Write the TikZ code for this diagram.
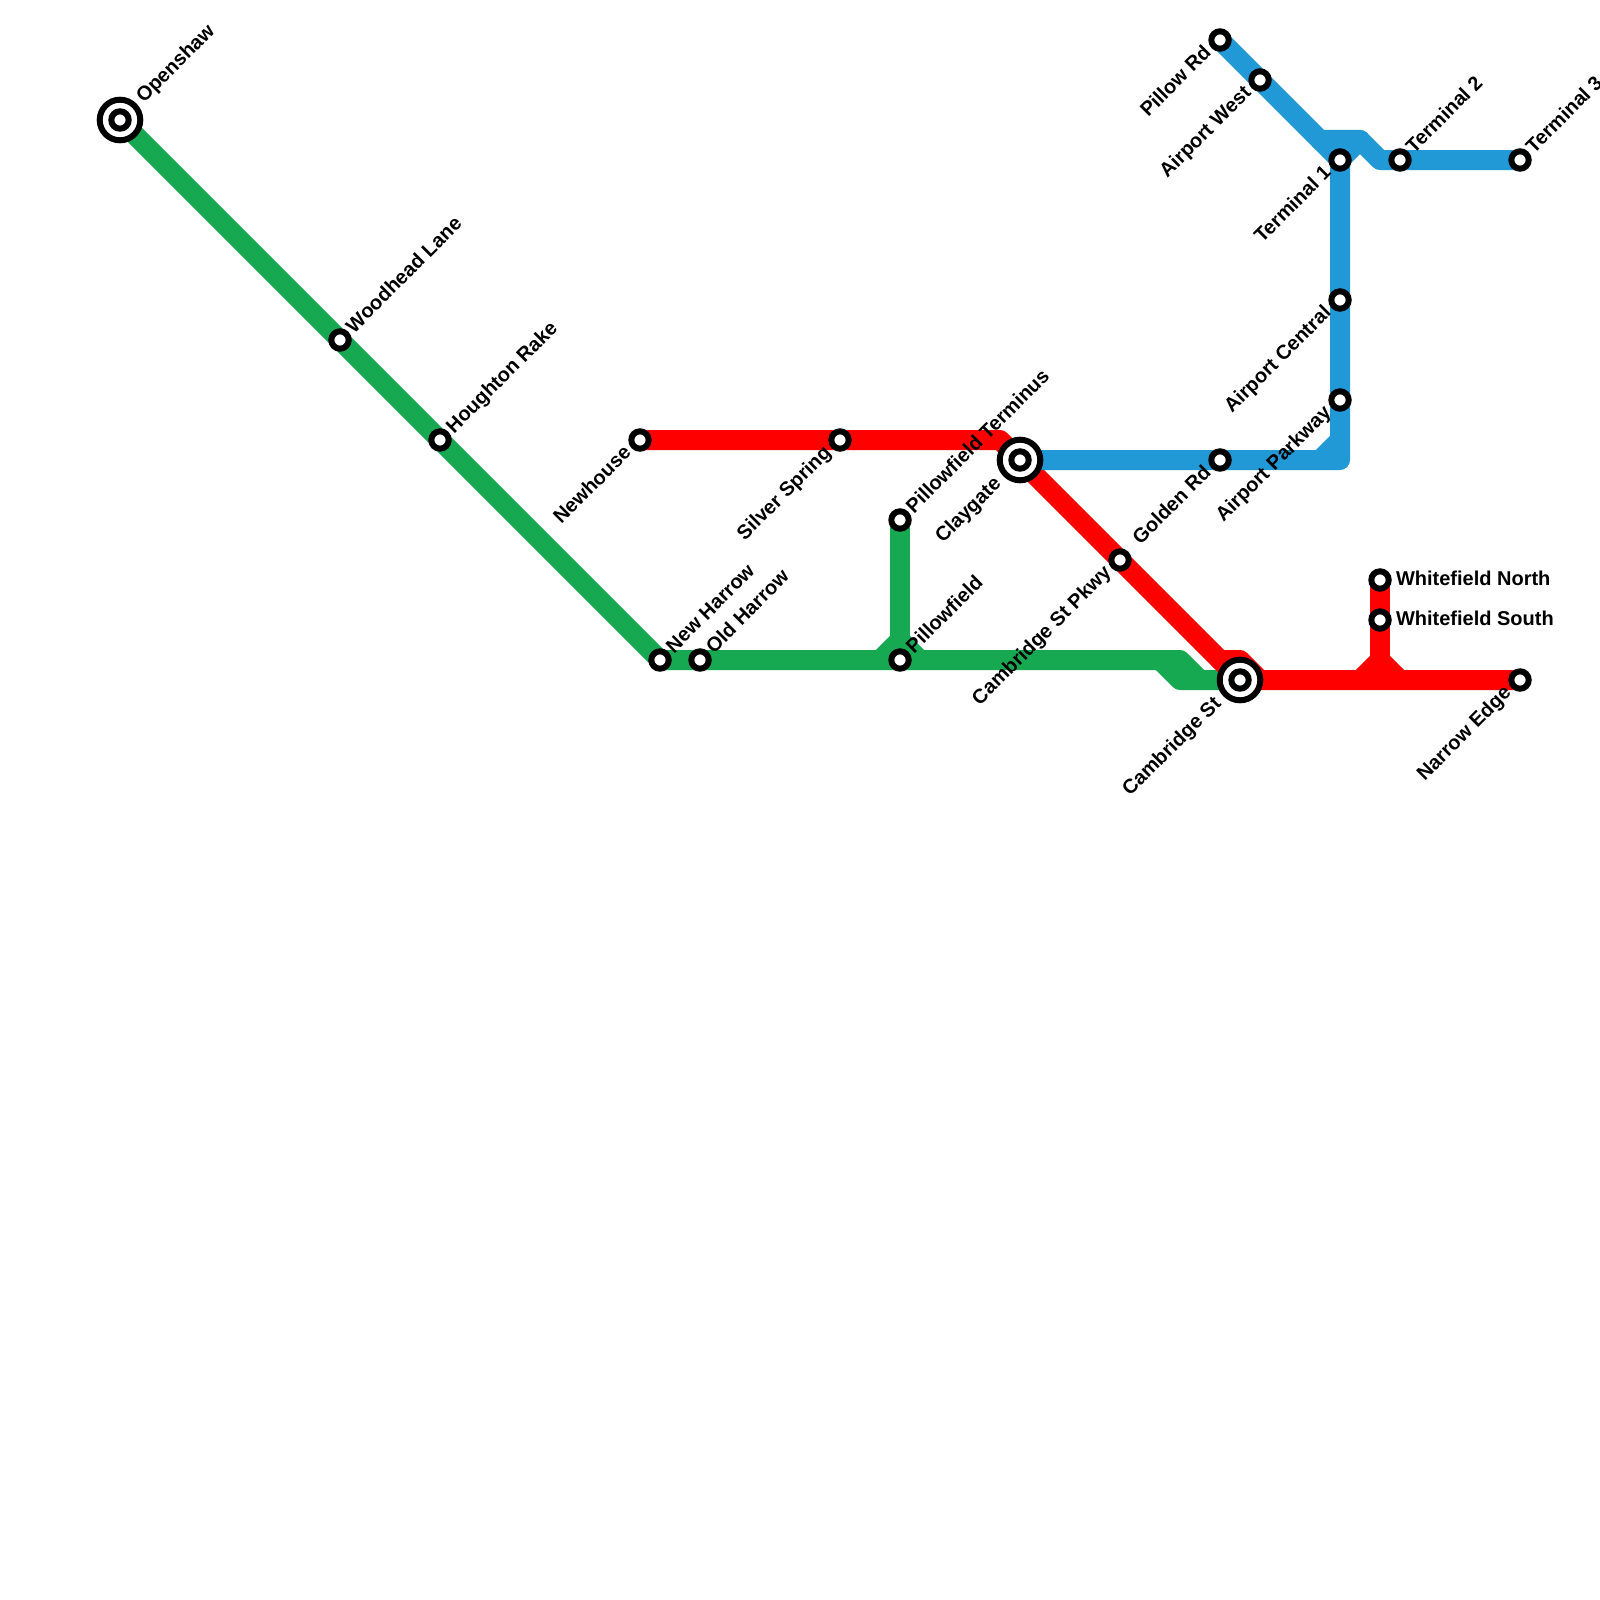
\documentclass[tikz,border=0pt]{standalone}
\usepackage{fontspec}
\setmainfont{Liberation Sans}
\usetikzlibrary{backgrounds}
\definecolor{lgreen}{HTML}{17A952}
\definecolor{lblue}{HTML}{2099D6}
\definecolor{lred}{HTML}{FF0000}
\tikzset{
  st/.style={circle,draw=black,fill=white,line width=6pt,inner sep=0pt,minimum size=17.4pt},
  ix/.style={circle,draw=black,fill=white,line width=6pt,inner sep=0pt,minimum size=40.6pt},
  lbl/.style={font=\bfseries\fontsize{20}{24}\selectfont,text=black,inner sep=0pt,outer sep=0pt},
  ne/.style={lbl,xshift=14pt,yshift=6pt,rotate=45,anchor=base west},
  sw/.style={lbl,xshift=-8pt,yshift=-14pt,rotate=45,anchor=base east},
  nei/.style={lbl,xshift=24pt,yshift=16pt,rotate=45,anchor=base west},
  swi/.style={lbl,xshift=-18pt,yshift=-25pt,rotate=45,anchor=base east},
  ea/.style={lbl,xshift=16pt,yshift=-5pt,anchor=base west},
  metro/.style={line width=20pt,line cap=round,line join=round},
}
\begin{document}
\begin{tikzpicture}[x=1pt,y=-1pt]
\useasboundingbox (0,0) rectangle (1600,1600);
% interchange rings
\node[ix] (openshawx) at (120,120) {};
\node[ix] (claygatex) at (1020,460) {};
\node[ix] (cambridgex) at (1240,680) {};
% stations
\node[st] (openshaw) at (120,120) {};
\node[st] (woodhead) at (340,340) {};
\node[st] (houghton) at (440,440) {};
\node[st] (newharrow) at (660,660) {};
\node[st] (oldharrow) at (700,660) {};
\node[st] (pillowfield) at (900,660) {};
\node[st] (pillowterm) at (900,520) {};
\node[st] (newhouse) at (640,440) {};
\node[st] (silver) at (840,440) {};
\node[st] (claygate) at (1020,460) {};
\node[st] (golden) at (1220,460) {};
\node[st] (pkwy) at (1120,560) {};
\node[st] (cambridge) at (1240,680) {};
\node[st] (narrow) at (1520,680) {};
\node[st] (wfn) at (1380,580) {};
\node[st] (wfs) at (1380,620) {};
\node[st] (pillow) at (1220,40) {};
\node[st] (awest) at (1260,80) {};
\node[st] (t1) at (1340,160) {};
\node[st] (t2) at (1400,160) {};
\node[st] (t3) at (1520,160) {};
\node[st] (acentral) at (1340,300) {};
\node[st] (aparkway) at (1340,400) {};
% bend points
\coordinate (g1) at (1160,660);
\coordinate (g2) at (1180,660);
\coordinate (g3) at (1180,680);
\coordinate (g4) at (1200,680);
\coordinate (g5) at (880,660);
\coordinate (g6) at (900,640);
\coordinate (g7) at (920,660);
\coordinate (r1) at (1000,440);
\coordinate (r2) at (1220,660);
\coordinate (r3) at (1240,660);
\coordinate (r4) at (1260,680);
\coordinate (r5) at (1360,680);
\coordinate (r6) at (1380,660);
\coordinate (r7) at (1400,680);
\coordinate (r8) at (1380,680);
\coordinate (b1) at (1320,140);
\coordinate (b2) at (1360,140);
\coordinate (b3) at (1380,160);
\coordinate (b4) at (1340,460);
\coordinate (b5) at (1320,460);
\coordinate (b6) at (1340,440);
% lines
\begin{scope}[on background layer]
\fill[white] (0,0) rectangle (1600,1600);
\draw[metro,lgreen] (openshaw.center) -- (woodhead.center) -- (houghton.center) -- (newharrow.center) -- (oldharrow.center) -- (pillowfield.center) -- (g1) -- (g2) -- (g4) -- (cambridge.center);
\draw[metro,lgreen] (g1) -- (g3) -- (g4);
\draw[metro,lgreen] (pillowterm.center) -- (pillowfield.center);
\draw[metro,lgreen] (g5) -- (g6) -- (g7);
\draw[metro,lred] (newhouse.center) -- (silver.center) -- (r1) -- (claygate.center) -- (pkwy.center) -- (r2) -- (r3) -- (r4);
\draw[metro,lred] (r2) -- (cambridge.center) -- (narrow.center);
\draw[metro,lred] (wfn.center) -- (wfs.center) -- (r8);
\draw[metro,lred] (r5) -- (r6) -- (r7);
\draw[metro,lblue] (claygate.center) -- (golden.center) -- (b4) -- (aparkway.center) -- (acentral.center) -- (t1.center) -- (awest.center) -- (pillow.center);
\draw[metro,lblue] (b5) -- (b6);
\draw[metro,lblue] (b1) -- (b2) -- (b3) -- (t2.center) -- (t3.center);
\draw[metro,lblue] (t1.center) -- (b2);
\end{scope}
% labels
\node[nei] (lopenshaw) at (openshaw.center) {Openshaw};
\node[ne] (lwoodhead) at (woodhead.center) {Woodhead Lane};
\node[ne] (lhoughton) at (houghton.center) {Houghton Rake};
\node[ne] (lnewharrow) at (newharrow.center) {New Harrow};
\node[ne] (loldharrow) at (oldharrow.center) {Old Harrow};
\node[ne] (lpillowfield) at (pillowfield.center) {Pillowfield};
\node[ne] (lpillowterm) at (pillowterm.center) {Pillowfield Terminus};
\node[sw] (lnewhouse) at (newhouse.center) {Newhouse};
\node[sw] (lsilver) at (silver.center) {Silver Spring};
\node[swi] (lclaygate) at (claygate.center) {Claygate};
\node[sw] (lgolden) at (golden.center) {Golden Rd};
\node[sw] (lpkwy) at (pkwy.center) {Cambridge St Pkwy};
\node[swi] (lcambridge) at (cambridge.center) {Cambridge St};
\node[sw] (lnarrow) at (narrow.center) {Narrow Edge};
\node[ea] (lwfn) at (wfn.center) {Whitefield North};
\node[ea] (lwfs) at (wfs.center) {Whitefield South};
\node[sw] (lpillow) at (pillow.center) {Pillow Rd};
\node[sw] (lawest) at (awest.center) {Airport West};
\node[sw] (lt1) at (t1.center) {Terminal 1};
\node[ne] (lt2) at (t2.center) {Terminal 2};
\node[ne] (lt3) at (t3.center) {Terminal 3};
\node[sw] (lacentral) at (acentral.center) {Airport Central};
\node[sw] (laparkway) at (aparkway.center) {Airport Parkway};
\end{tikzpicture}
\end{document}
